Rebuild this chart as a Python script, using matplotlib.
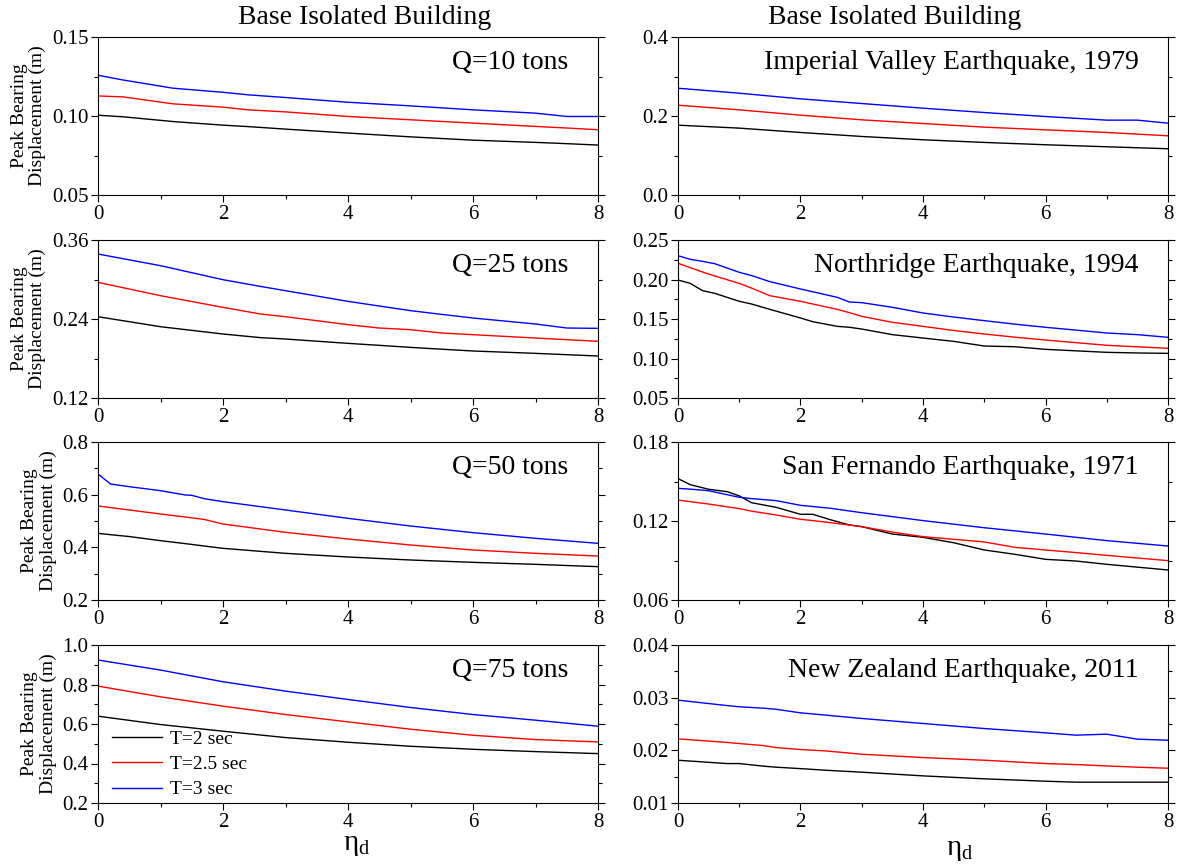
import matplotlib
matplotlib.use("Agg")
import matplotlib.pyplot as plt
from matplotlib.ticker import AutoMinorLocator, MultipleLocator, FormatStrFormatter

plt.rcParams["font.family"] = ["Liberation Serif", "DejaVu Serif"]
plt.rcParams["mathtext.fontset"] = "stix"

# --- data: eta_d on x, peak bearing displacement (m) on y ---
series_labels = ["T=2 sec", "T=2.5 sec", "T=3 sec"]
series_colors = ["black", "red", "blue"]

# Q = 10 tons
q10_x = [0, 0.4, 1.2, 2, 2.4, 3, 4, 5, 6, 7, 7.5, 8]
q10_t2 = [0.1005, 0.0995, 0.0965, 0.0942, 0.0933, 0.0917, 0.0892, 0.0868, 0.0847, 0.0833, 0.0825, 0.0816]
q10_t25 = [0.1127, 0.1121, 0.1077, 0.1056, 0.1039, 0.1026, 0.0997, 0.0976, 0.0955, 0.0934, 0.0924, 0.0913]
q10_t3 = [0.1258, 0.1228, 0.1176, 0.1150, 0.1134, 0.1117, 0.1087, 0.1064, 0.1039, 0.1018, 0.0997, 0.0997]

# Q = 25 tons
q25_x = [0, 1, 2, 2.6, 3, 4, 4.5, 5, 5.5, 6, 7, 7.5, 8]
q25_t2 = [0.2435, 0.2283, 0.2172, 0.2117, 0.2096, 0.2030, 0.2000, 0.1969, 0.1941, 0.1914, 0.1878, 0.1858, 0.1838]
q25_t25 = [0.2957, 0.2754, 0.2577, 0.2476, 0.2435, 0.2314, 0.2263, 0.2238, 0.2187, 0.2162, 0.2111, 0.2086, 0.2061]
q25_t3 = [0.3387, 0.3210, 0.2997, 0.2895, 0.2830, 0.2668, 0.2597, 0.2527, 0.2470, 0.2415, 0.2324, 0.2263, 0.2258]

# Q = 50 tons
q50_x = [0, 0.2, 0.5, 1, 1.4, 1.5, 1.7, 2, 3, 4, 5, 6, 7, 8]
q50_t2 = [0.4532, 0.4480, 0.4410, 0.4253, 0.4140, 0.4110, 0.4050, 0.3962, 0.3772, 0.3633, 0.3519, 0.3430, 0.3354, 0.3266]
q50_t25 = [0.5570, 0.5510, 0.5418, 0.5266, 0.5150, 0.5120, 0.5060, 0.4886, 0.4570, 0.4316, 0.4089, 0.3899, 0.3772, 0.3671]
q50_t3 = [0.6785, 0.6405, 0.6304, 0.6152, 0.5987, 0.5975, 0.5848, 0.5734, 0.5418, 0.5101, 0.4810, 0.4557, 0.4342, 0.4152]

# Q = 75 tons
q75_x = [0, 1, 2, 3, 4, 5, 6, 7, 8]
q75_t2 = [0.6396, 0.5973, 0.5635, 0.5313, 0.5076, 0.4873, 0.4720, 0.4602, 0.4501]
q75_t25 = [0.7919, 0.7377, 0.6904, 0.6480, 0.6108, 0.5736, 0.5431, 0.5211, 0.5093]
q75_t3 = [0.9239, 0.8731, 0.8139, 0.7665, 0.7242, 0.6836, 0.6480, 0.6193, 0.5888]

# Imperial Valley 1979
iv_x = [0, 1, 2, 3, 4, 5, 6, 7, 7.5, 8]
iv_t2 = [0.1768, 0.1693, 0.1583, 0.1482, 0.1398, 0.1331, 0.1272, 0.1221, 0.1196, 0.1171]
iv_t25 = [0.2274, 0.2156, 0.2021, 0.1903, 0.1810, 0.1718, 0.1650, 0.1583, 0.1541, 0.1499]
iv_t3 = [0.2703, 0.2577, 0.2434, 0.2316, 0.2198, 0.2088, 0.1987, 0.1895, 0.1895, 0.1819]

# Northridge 1994
nr_x = [0, 0.2, 0.4, 0.6, 1, 1.2, 1.5, 2, 2.2, 2.6, 2.8, 3, 3.5, 4, 4.5, 5, 5.5, 6, 7, 7.5, 8]
nr_t2 = [0.1994, 0.1951, 0.1859, 0.1825, 0.1724, 0.1690, 0.1622, 0.1513, 0.1466, 0.1407, 0.1395,
         0.1373, 0.1302, 0.1259, 0.1217, 0.1158, 0.1149, 0.1116, 0.1078, 0.1070, 0.1065]
nr_t25 = [0.2205, 0.2150, 0.2095, 0.2045, 0.1951, 0.1892, 0.1795, 0.1724, 0.1690, 0.1622, 0.1580,
          0.1534, 0.1458, 0.1407, 0.1355, 0.1310, 0.1270, 0.1234, 0.1167, 0.1148, 0.1129]
nr_t3 = [0.2302, 0.2255, 0.2230, 0.2200, 0.2091, 0.2050, 0.1973, 0.1880, 0.1845, 0.1774, 0.1715,
         0.1707, 0.1648, 0.1576, 0.1525, 0.1479, 0.1435, 0.1395, 0.1323, 0.1302, 0.1268]

# San Fernando 1971
sf_x = [0, 0.2, 0.5, 0.8, 1, 1.2, 1.6, 2, 2.2, 2.5, 2.8, 3, 3.5, 4, 4.5, 5, 5.5, 6, 6.5, 7, 8]
sf_t2 = [0.1522, 0.1476, 0.1441, 0.1423, 0.1391, 0.1339, 0.1304, 0.1251, 0.1251, 0.1208, 0.1170,
         0.1157, 0.1101, 0.1076, 0.1035, 0.0980, 0.0947, 0.0909, 0.0896, 0.0871, 0.0828]
sf_t25 = [0.1359, 0.1347, 0.1329, 0.1308, 0.1294, 0.1275, 0.1246, 0.1213, 0.1203, 0.1187, 0.1169,
          0.1157, 0.1116, 0.1081, 0.1061, 0.1041, 0.1000, 0.0980, 0.0960, 0.0939, 0.0899]
sf_t3 = [0.1448, 0.1442, 0.1430, 0.1400, 0.1380, 0.1370, 0.1355, 0.1319, 0.1310, 0.1296, 0.1276,
         0.1263, 0.1233, 0.1203, 0.1176, 0.1149, 0.1125, 0.1101, 0.1076, 0.1051, 0.1010]

# New Zealand 2011
nz_x = [0, 0.8, 1, 1.4, 1.6, 2, 2.4, 3, 4, 5, 6, 6.5, 7, 7.5, 8]
nz_t2 = [0.01812, 0.01749, 0.01749, 0.01699, 0.01680, 0.01653, 0.01623, 0.01585, 0.01515, 0.01459,
         0.01414, 0.01395, 0.01395, 0.01395, 0.01395]
nz_t25 = [0.02218, 0.02150, 0.02129, 0.02090, 0.02053, 0.02015, 0.01990, 0.01926, 0.01863, 0.01812,
          0.01749, 0.01730, 0.01704, 0.01680, 0.01660]
nz_t3 = [0.02953, 0.02850, 0.02827, 0.02800, 0.02780, 0.02712, 0.02670, 0.02605, 0.02510, 0.02414,
         0.02332, 0.02288, 0.02307, 0.02212, 0.02192]

left_panels = [
    ("Q=10 tons", q10_x, [q10_t2, q10_t25, q10_t3], (0.05, 0.15), 0.05, "%.2f"),
    ("Q=25 tons", q25_x, [q25_t2, q25_t25, q25_t3], (0.12, 0.36), 0.12, "%.2f"),
    ("Q=50 tons", q50_x, [q50_t2, q50_t25, q50_t3], (0.2, 0.8), 0.2, "%.1f"),
    ("Q=75 tons", q75_x, [q75_t2, q75_t25, q75_t3], (0.2, 1.0), 0.2, "%.1f"),
]
right_panels = [
    ("Imperial Valley Earthquake, 1979", iv_x, [iv_t2, iv_t25, iv_t3], (0.0, 0.4), 0.2, "%.1f"),
    ("Northridge Earthquake, 1994", nr_x, [nr_t2, nr_t25, nr_t3], (0.05, 0.25), 0.05, "%.2f"),
    ("San Fernando Earthquake, 1971", sf_x, [sf_t2, sf_t25, sf_t3], (0.06, 0.18), 0.06, "%.2f"),
    ("New Zealand Earthquake, 2011", nz_x, [nz_t2, nz_t25, nz_t3], (0.01, 0.04), 0.01, "%.2f"),
]

W, H = 1183, 868
fig = plt.figure(figsize=(W / 100, H / 100), dpi=100)

row_tops = [37, 240, 442, 645]
row_h = 158
col_specs = [(98, 500, left_panels), (678, 490, right_panels)]

axes = []
for ci, (x0, w, panels) in enumerate(col_specs):
    for ri, (label, xs, ys, ylim, step, fmt) in enumerate(panels):
        top = row_tops[ri]
        ax = fig.add_axes([x0 / W, 1 - (top + row_h) / H, w / W, row_h / H])
        for y, c, lab in zip(ys, series_colors, series_labels):
            ax.plot(xs, y, color=c, lw=1.0, label=lab)
        ax.set_xlim(0, 8)
        ax.set_ylim(*ylim)
        ax.xaxis.set_major_locator(MultipleLocator(2))
        ax.xaxis.set_minor_locator(AutoMinorLocator(2))
        ax.yaxis.set_major_locator(MultipleLocator(step))
        ax.yaxis.set_minor_locator(AutoMinorLocator(2))
        ax.yaxis.set_major_formatter(FormatStrFormatter(fmt))
        ax.tick_params(which="both", direction="out", right=True, top=False, labelsize=15, width=0.8)
        ax.tick_params(which="major", length=5, pad=2)
        ax.tick_params(which="minor", length=3)
        for s in ax.spines.values():
            s.set_linewidth(0.8)
        ax.text(0.94, 0.84, label, transform=ax.transAxes, ha="right", va="center", fontsize=20)
        if ci == 0:
            ax.set_ylabel("Peak Bearing\nDisplacement (m)", fontsize=14, linespacing=1.1, labelpad=4)
        axes.append(ax)

# legend in the Q=75 panel
axes[3].legend(loc="lower left", bbox_to_anchor=(0.012, -0.02), frameon=False, fontsize=14,
               handlelength=2.6, handletextpad=0.4, labelspacing=0.4, borderaxespad=0.0)

fig.text(365 / W, 1 - 18 / H, "Base Isolated Building", ha="center", va="center", fontsize=20)
fig.text(895 / W, 1 - 18 / H, "Base Isolated Building", ha="center", va="center", fontsize=20)
fig.text(357 / W, 1 - 845 / H, r"$\mathregular{\eta_d}$", ha="center", va="center", fontsize=21)
fig.text(960 / W, 1 - 850 / H, r"$\mathregular{\eta_d}$", ha="center", va="center", fontsize=21)

fig.savefig("out.png", dpi=100)
